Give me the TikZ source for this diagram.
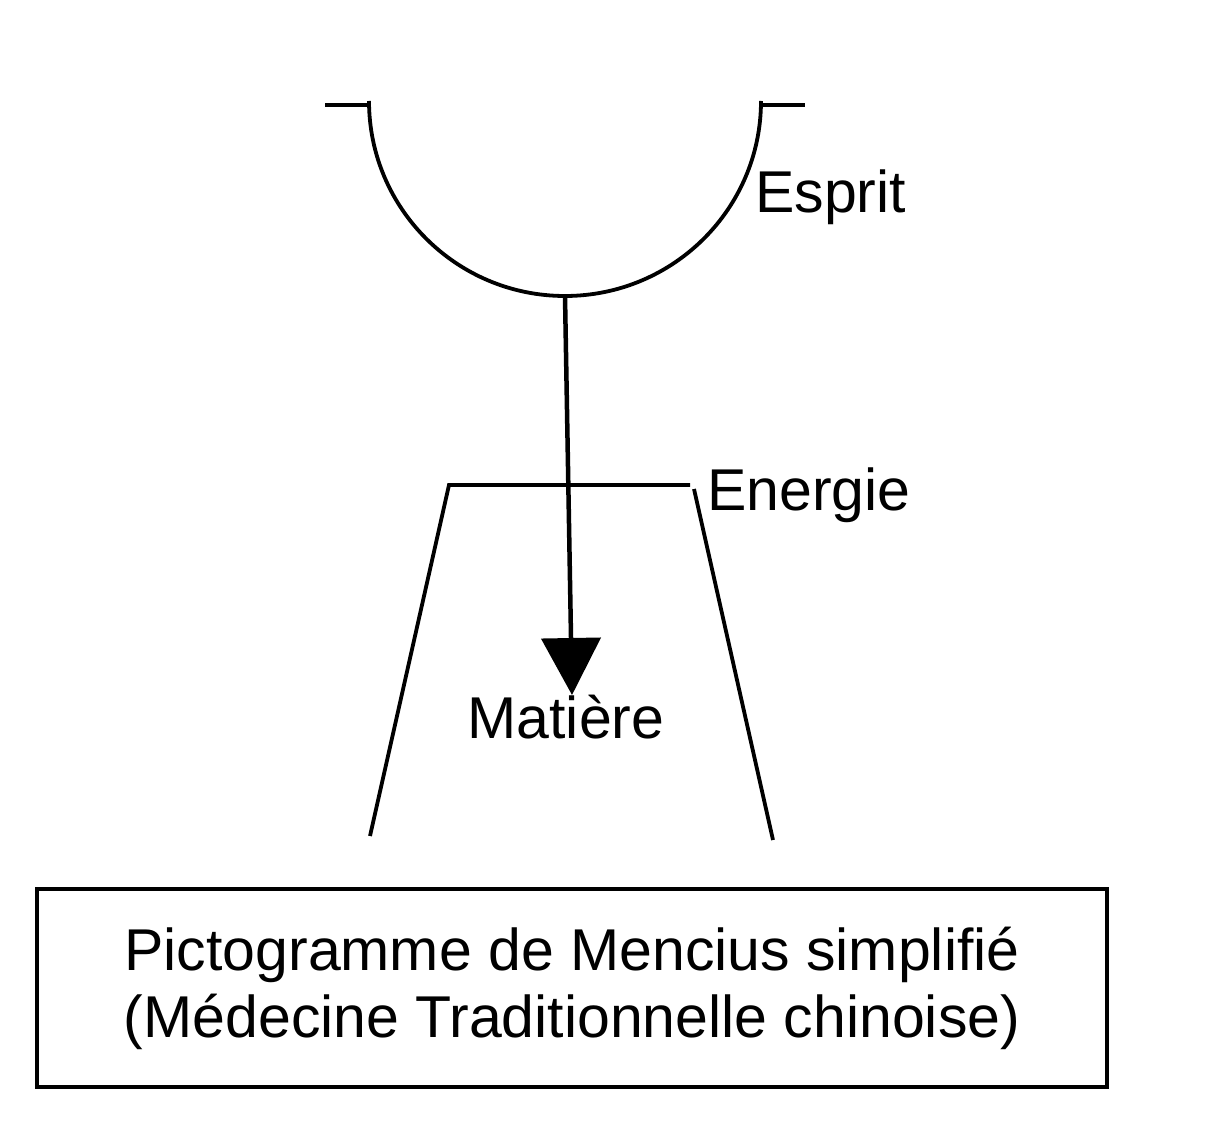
\documentclass[tikz,border=0pt]{standalone}
\usepackage{fontspec}
\setmainfont{Liberation Sans}
\usetikzlibrary{arrows.meta}
\begin{document}
\begin{tikzpicture}[x=1pt,y=1pt,
  stroke/.style={line width=3.8pt, line cap=butt, line join=miter},
  lbl/.style={inner sep=0pt, font=\fontsize{59}{67}\selectfont},
  boxframe/.style={draw, line width=3.8pt, minimum width=1070pt, minimum height=198pt, inner sep=0pt,
     align=center, font=\fontsize{59}{67}\selectfont}]
\useasboundingbox (0,0) rectangle (1230,-1147);
% bowl (Esprit)
\coordinate (bl) at (369,-101);
\coordinate (br) at (761,-101);
\coordinate (bottom) at (565,-296);
\draw[stroke] (325,-105) -- (369,-105);
\draw[stroke] (761,-105) -- (805,-105);
\draw[stroke] (bl) arc[start angle=180, end angle=360, x radius=196, y radius=195];
% trapezoid (Energie)
\coordinate (tl) at (449,-485);
\coordinate (tr) at (690,-485);
\coordinate (rl) at (694,-489);
\coordinate (ll) at (370,-836);
\coordinate (lr) at (773,-840);
\draw[stroke] (ll) -- (tl) -- (tr);
\draw[stroke] (rl) -- (lr);
% arrow
\coordinate (tip) at (572,-695);
\draw[stroke, line width=4.5pt, -{Triangle[width=59pt,length=57pt]}] (bottom) -- (tip);
% labels
\node[lbl, anchor=base west] (esprit) at (755,-213) {Esprit};
\node[lbl, anchor=base west] (energie) at (707,-510) {Energie};
\node[lbl, anchor=base] (matiere) at (566,-738) {Matière};
% caption box
\node[boxframe] (box) at (572,-988) {Pictogramme de Mencius simplifié\\(Médecine Traditionnelle chinoise)};
\end{tikzpicture}
\end{document}
